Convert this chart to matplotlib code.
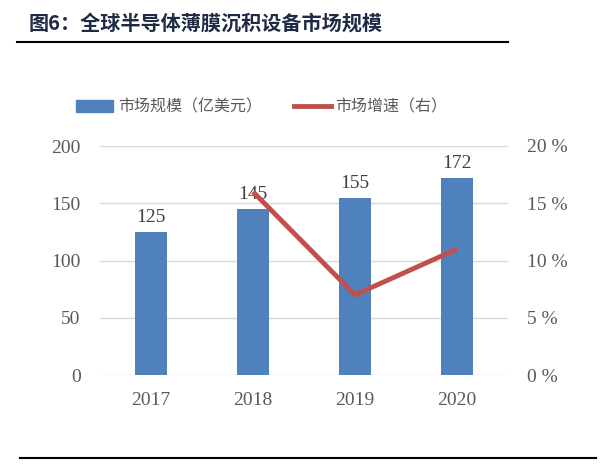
import matplotlib.pyplot as plt
from matplotlib.lines import Line2D
from matplotlib.patches import Patch

plt.rcParams['font.family'] = ['Noto Sans CJK SC', 'DejaVu Sans']

years = ['2017', '2018', '2019', '2020']
market_size = [125, 145, 155, 172]
growth = [None, 16, 7, 11]  # %

W, H = 613, 466
fig = plt.figure(figsize=(W / 100, H / 100), dpi=100)

# plot area in pixels: x 100..508, y 146..375
ax = fig.add_axes([100 / W, 1 - 375 / H, 408 / W, 229 / H])
x = range(len(years))
ax.bar(x, market_size, width=0.31, color='#4f81bd', zorder=2)
for i, v in enumerate(market_size):
    ax.text(i, v + 5, str(v), ha='center', va='bottom', fontsize=14,
            color='#404040', family=['Liberation Serif'])
ax.set_xlim(-0.5, 3.5)
ax.set_ylim(0, 200)
ax.set_yticks([0, 50, 100, 150, 200])
ax.set_xticks(list(x))
ax.set_xticklabels(years)
ax.grid(axis='y', color='#d9d9d9', linewidth=1, zorder=0)
for s in ax.spines.values():
    s.set_visible(False)
ax.tick_params(axis='y', length=0, labelsize=14, labelcolor='#595959', pad=14)
ax.tick_params(axis='x', length=0, labelsize=14, labelcolor='#595959', pad=12)
for lab in ax.get_xticklabels() + ax.get_yticklabels():
    lab.set_family(['Liberation Serif'])

ax2 = ax.twinx()
gx = [i for i, g in enumerate(growth) if g is not None]
gy = [g for g in growth if g is not None]
ax2.plot(gx, gy, color='#c0504d', linewidth=3.5, solid_capstyle='butt', zorder=3)
ax2.set_ylim(0, 20)
ax2.set_yticks([0, 5, 10, 15, 20])
ax2.set_yticklabels([f'{t} %' for t in [0, 5, 10, 15, 20]])
for s in ax2.spines.values():
    s.set_visible(False)
ax2.tick_params(length=0, labelsize=14, labelcolor='#595959', pad=14)
for lab in ax2.get_yticklabels():
    lab.set_family(['Liberation Serif'])

# legend
handles = [Patch(color='#4f81bd'), Line2D([0], [0], color='#c0504d', linewidth=3.5)]
fig.legend(handles, ['市场规模（亿美元）', '市场增速（右）'], loc='center',
           bbox_to_anchor=(262 / W, 1 - 107 / H), ncol=2, frameon=False,
           fontsize=11.5, handlelength=2.3, handletextpad=0.3, columnspacing=2.0,
           labelcolor='#595959')

# title and rules
fig.text(29 / W, 1 - 23 / H, '图6：全球半导体薄膜沉积设备市场规模', fontsize=14.5,
         fontweight='bold', color='#1f2a44', va='center', ha='left')
fig.add_artist(Line2D([17 / W, 508 / W], [1 - 42 / H, 1 - 42 / H], color='black', linewidth=1.5))
fig.add_artist(Line2D([20 / W, 596 / W], [1 - 458 / H, 1 - 458 / H], color='black', linewidth=1.5))

fig.savefig('out.png', dpi=100)
